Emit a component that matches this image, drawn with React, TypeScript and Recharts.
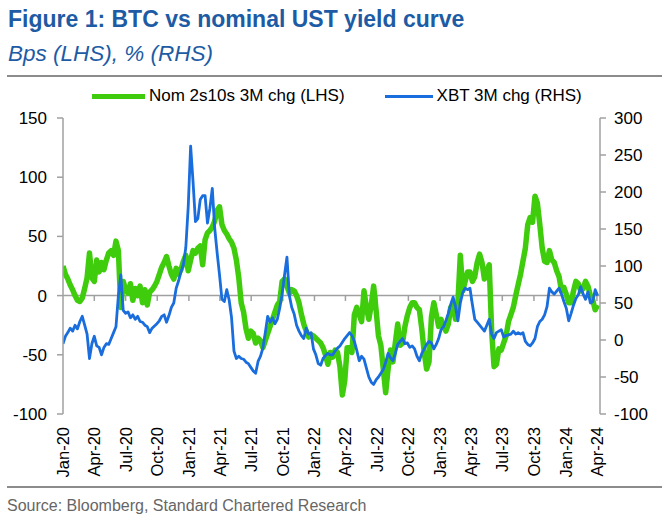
import React from 'react';
import { LineChart, Line, XAxis, YAxis, ReferenceLine, Legend } from 'recharts';

// quarterly axis labels
const tickLabels = [
  'Jan-20', 'Apr-20', 'Jul-20', 'Oct-20', 'Jan-21', 'Apr-21', 'Jul-21', 'Oct-21', 'Jan-22',
  'Apr-22', 'Jul-22', 'Oct-22', 'Jan-23', 'Apr-23', 'Jul-23', 'Oct-23', 'Jan-24', 'Apr-24',
];
const leftTicks = [-100, -50, 0, 50, 100, 150];
const rightTicks = [-100, -50, 0, 50, 100, 150, 200, 250, 300];

// weekly readings from 1 Jan 2020, bps
const nom2s10s = [
  25, 18, 14, 9, 5, 0, -4, -5, -2, 6, 15, 36, 15, 12, 30, 20, 28, 22, 30, 36, 38, 34, 46, 38, -10, 12, 5, 2, 10, -4, 6, 0, 8, -6, 5, -8, 3,
  5, 8, 12, 18, 24, 28, 33, 25, 18, 14, 23, 18, 22, 29, 34, 21, 30, 38, 36, 40, 42, 26, 47, 53, 55, 58, 63, 72, 75, 60, 55, 52, 48, 45, 40, 30, 15, -6,
  -14, -28, -36, -30, -32, -40, -36, -38, -44, -38, -32, -26, -20, -14, -8, -5, 12, 14, 8, 2, 5, 4, 0, -6, -16, -24, -30, -35, -33, -34, -36, -38, -40, -44, -50, -58, -48,
  -52, -46, -48, -60, -84, -72, -44, -44, -48, -16, -10, -16, -22, 4, -10, -20, -8, 8, -12, -34, -42, -62, -82, -62, -46, -56, -40, -24, -42, -40, -26, -17, -10, -6, -6, -10, -12,
  -28, -48, -62, -56, -18, -6, -16, -26, -20, -26, -30, -24, -10, -8, -20, -5, 34, 4, 12, 20, 20, 12, 16, 28, 35, 28, 14, 21, 26, -30, -60, -58, -45, -46, -40, -34, -22,
  -16, -10, 0, 9, 18, 29, 40, 60, 66, 62, 84, 78, 60, 40, 29, 28, 38, 30, 28, 21, 16, 4, 7, 1, -6, -6, 4, 12, 10, 4, 6, 12, 8, 0, -4, -12, -8,
];

// weekly readings, %
const xbt = [
  -5, 5, 10, 16, 12, 20, 15, 25, 32, 20, 8, -25, -5, 5, -8, -10, -20, -10, -5, -6, 2, 10, 18, 60, 88, 40, 36, 38, 30, 34, 28, 32, 25, 24, 20, 18, 10,
  16, 19, 22, 26, 32, 34, 24, 33, 44, 50, 70, 80, 92, 102, 125, 180, 262, 214, 160, 164, 190, 195, 195, 158, 178, 205, 151, 118, 88, 55, 52, 68, 54, 30, -15, -25, -22, -25,
  -26, -30, -32, -37, -42, -45, -29, -22, -11, 10, 32, 24, 30, 22, 28, 43, 62, 88, 112, 60, 44, 35, 20, 12, 6, 2, 16, 8, 10, -12, -20, -32, -34, -25, -21, -18, -20,
  -20, -15, -11, -8, -3, 2, 6, 10, 6, -2, -14, -28, -22, -26, -38, -50, -57, -60, -54, -50, -45, -40, -30, -18, -24, -28, -18, -6, -2, 2, -5, -4, -10, -8, -12, -22, -28,
  -18, -12, -6, -2, -4, -12, -6, 2, 14, 18, 26, 36, 48, 58, 45, 26, 50, 64, 70, 68, 70, 48, 28, 24, 20, 16, 12, 20, 28, 8, 2, 10, 12, 14, 4, 6, 7,
  8, 12, 8, 10, 8, 10, -2, -6, -8, -4, 2, 18, 25, 28, 34, 45, 70, 65, 62, 66, 70, 62, 52, 43, 26, 36, 47, 56, 61, 72, 62, 55, 65, 50, 52, 68, 60,
];

const FONT = '"Liberation Sans", Arial, sans-serif';
const GREEN = '#3ecc0c';
const BLUE = '#196ddc';
const TITLE_BLUE = '#1d5ba4';
const AXIS = '#a0a0a0';

const DAY = 86400000;
const START = Date.UTC(2020, 0, 1);
const MONTH: Record<string, number> = { Jan: 0, Apr: 3, Jul: 6, Oct: 9 };
const tickDays = tickLabels.map((l) => {
  const [m, y] = l.split('-');
  return Math.round((Date.UTC(2000 + Number(y), MONTH[m], 1) - START) / DAY);
});
const labelOf = new Map(tickDays.map((d, i) => [d, tickLabels[i]]));

const data = nom2s10s.map((v, i) => ({ day: i * 7, nom: v, xbt: xbt[i] }));
const lastDay = data.length * 7;

const DateTick = (props: any) => {
  const { x, y, payload } = props;
  return (
    <text
      x={0}
      y={0}
      transform={`translate(${x},${y}) rotate(-90)`}
      textAnchor="end"
      dy="0.36em"
      fontSize={16.5}
      fontFamily={FONT}
      fill="#000"
    >
      {labelOf.get(payload.value)}
    </text>
  );
};

const LegendBox = (props: any) => {
  const items = props.payload || [];
  return (
    <div style={{ display: 'flex', alignItems: 'center', paddingLeft: 92, fontFamily: FONT, fontSize: 17, color: '#000' }}>
      {items.map((e: any, i: number) => (
        <div key={e.value} style={{ display: 'flex', alignItems: 'center', marginLeft: i ? 40 : 0 }}>
          <span style={{ display: 'inline-block', width: i ? 48 : 53, height: i ? 3 : 5, background: e.color, marginRight: 4 }} />
          <span>{e.value}</span>
        </div>
      ))}
    </div>
  );
};

export default function App() {
  const tickStyle = { fill: '#000', fontSize: 17, fontFamily: FONT };
  return (
    <div style={{ position: 'absolute', left: 0, top: 0, width: 667, height: 525, background: '#fff', fontFamily: FONT }}>
      <div style={{ position: 'absolute', left: 8, top: 6, fontSize: 23, fontWeight: 700, color: TITLE_BLUE, lineHeight: '27px' }}>
        Figure 1: BTC vs nominal UST yield curve
      </div>
      <div style={{ position: 'absolute', left: 8, top: 40, fontSize: 22.5, fontStyle: 'italic', color: TITLE_BLUE, lineHeight: '27px' }}>
        Bps (LHS), % (RHS)
      </div>
      <div style={{ position: 'absolute', left: 7, top: 75, width: 655, height: 2, background: '#8c8c8c' }} />

      <div style={{ position: 'absolute', left: 0, top: 0 }}>
        <LineChart width={667} height={490} data={data} margin={{ top: 118, right: 8, bottom: 6, left: 8 }}>
          <XAxis
            dataKey="day"
            type="number"
            domain={[0, lastDay]}
            ticks={tickDays}
            interval={0}
            tick={<DateTick />}
            axisLine={false}
            tickLine={false}
            tickMargin={7}
            height={70}
            allowDataOverflow
          />
          <YAxis
            yAxisId="l"
            domain={[-100, 150]}
            ticks={leftTicks}
            interval={0}
            width={55}
            axisLine={{ stroke: AXIS, strokeWidth: 1.5 }}
            tickLine={{ stroke: AXIS, strokeWidth: 1.5 }}
            tickSize={6}
            tickMargin={10}
            tick={tickStyle}
            allowDataOverflow
          />
          <YAxis
            yAxisId="r"
            orientation="right"
            domain={[-100, 300]}
            ticks={rightTicks}
            interval={0}
            width={59}
            axisLine={{ stroke: AXIS, strokeWidth: 1.5 }}
            tickLine={{ stroke: AXIS, strokeWidth: 1.5 }}
            tickSize={6}
            tickMargin={8}
            tick={tickStyle}
            allowDataOverflow
          />
          <ReferenceLine yAxisId="l" y={0} stroke={AXIS} strokeWidth={1.5} />
          {tickDays.slice(1).map((d) => (
            <ReferenceLine
              key={d}
              yAxisId="l"
              segment={[{ x: d, y: 0 }, { x: d, y: -4.5 }]}
              stroke={AXIS}
              strokeWidth={1.5}
            />
          ))}
          <Legend
            layout="horizontal"
            verticalAlign="middle"
            align="center"
            wrapperStyle={{ top: 86, left: 0, width: 667 }}
            content={<LegendBox />}
          />
          <Line
            yAxisId="l"
            dataKey="nom"
            name="Nom 2s10s 3M chg (LHS)"
            stroke={GREEN}
            strokeWidth={5.5}
            strokeLinejoin="round"
            dot={false}
            isAnimationActive={false}
          />
          <Line
            yAxisId="r"
            dataKey="xbt"
            name="XBT 3M chg (RHS)"
            stroke={BLUE}
            strokeWidth={2.8}
            strokeLinejoin="round"
            dot={false}
            isAnimationActive={false}
          />
        </LineChart>
      </div>

      <div style={{ position: 'absolute', left: 7, top: 486, width: 655, height: 2, background: '#8c8c8c' }} />
      <div style={{ position: 'absolute', left: 7, top: 496, fontSize: 16, color: '#666', lineHeight: '20px' }}>
        Source: Bloomberg, Standard Chartered Research
      </div>
    </div>
  );
}
